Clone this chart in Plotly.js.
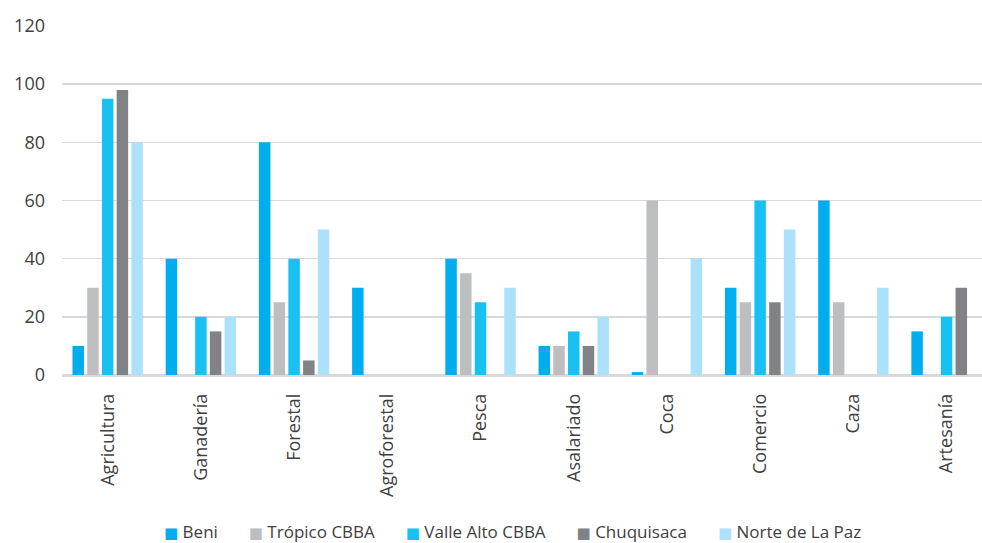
<!DOCTYPE html>
<html>
<head>
<meta charset="utf-8">
<script src="https://cdn.plot.ly/plotly-3.0.1.min.js"></script>
<style>html,body{margin:0;padding:0;background:#fff;}#chart{width:982px;height:543px;}</style>
</head>
<body>
<div id="chart"></div>
<script>
const categories = ["Agricultura","Ganadería","Forestal","Agroforestal","Pesca","Asalariado","Coca","Comercio","Caza","Artesanía"];
const seriesNames = ["Beni","Trópico CBBA","Valle Alto CBBA","Chuquisaca","Norte de La Paz"];
const beni      = [10, 40, 80, 30, 40, 10, 1, 30, 60, 15];
const tropico   = [30, 0, 25, 0, 35, 10, 60, 25, 25, 0];
const valleAlto = [95, 20, 40, 0, 25, 15, 0, 60, 0, 20];
const chuquisaca= [98, 15, 5, 0, 0, 10, 0, 25, 0, 30];
const norteLaPaz= [80, 20, 50, 0, 30, 20, 40, 50, 30, 0];
const yTicks = [0, 20, 40, 60, 80, 100, 120];

const colors = ["#00AEEF","#BCBEC0","#17C2F3","#808285","#ABE1FA"];
const values = [beni, tropico, valleAlto, chuquisaca, norteLaPaz];

const traces = values.map((v, i) => ({
  type: 'bar',
  name: seriesNames[i],
  x: categories,
  y: v,
  marker: {color: colors[i], line: {width: 0}},
  hoverinfo: 'x+y+name'
}));

const gap = '&nbsp;'.repeat(7);
const legendText = seriesNames.map((n, i) =>
  '<span style="color:' + colors[i] + ';font-size:15px;font-family:DejaVu Sans">■</span>&nbsp;' + n
).join(gap);

const layout = {
  width: 982, height: 543,
  margin: {l: 62, r: 0, t: 26, b: 168},
  paper_bgcolor: '#ffffff', plot_bgcolor: '#ffffff',
  font: {family: 'Open Sans, Lato, sans-serif', size: 17, color: '#404040'},
  barmode: 'group',
  bargap: 0.21,
  bargroupgap: 0.22,
  showlegend: false,
  annotations: [{
    xref: 'paper', yref: 'paper', x: 0.49, y: -0.448, xanchor: 'center', yanchor: 'middle',
    text: legendText, showarrow: false,
    font: {family: 'Open Sans, Lato, sans-serif', size: 17, color: '#404040'}
  }],
  xaxis: {
    type: 'category', tickangle: -90, showgrid: false, zeroline: false,
    range: [-0.49, 9.38],
    showline: true, linecolor: '#D9D9D9', linewidth: 1.5,
    ticks: '', ticklabelstandoff: 10, automargin: false,
    tickfont: {size: 18, color: '#404040'}
  },
  yaxis: {
    range: [0, 120], tickvals: yTicks, showgrid: true, gridcolor: '#D9D9D9', gridwidth: 1.5,
    zeroline: true, zerolinecolor: '#D9D9D9', zerolinewidth: 1.5,
    showline: false, ticks: '', ticklabelstandoff: 16, automargin: false,
    tickfont: {size: 18, color: '#404040'}
  }
};

Plotly.newPlot('chart', traces, layout, {displayModeBar: false, staticPlot: true});
</script>
</body>
</html>
